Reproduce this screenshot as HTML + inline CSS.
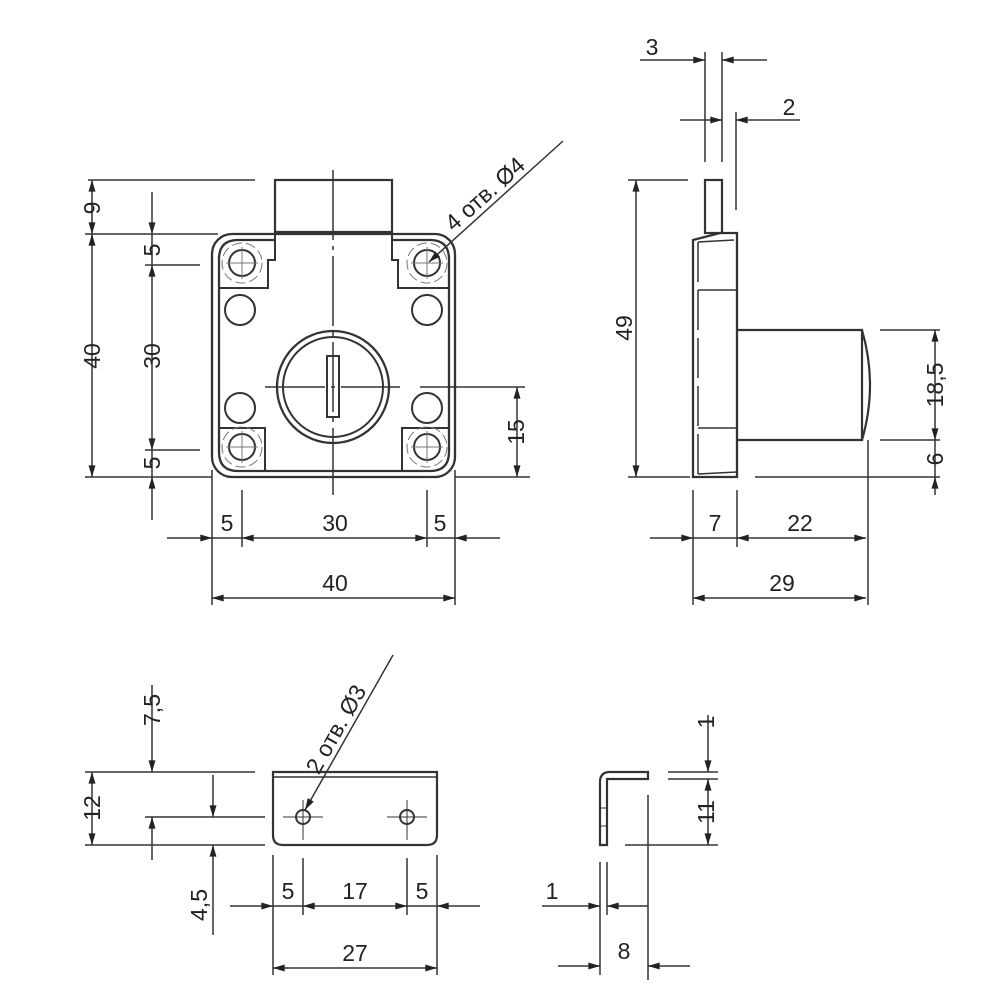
<!DOCTYPE html>
<html><head><meta charset="utf-8"><style>
html,body{margin:0;padding:0;background:#fff}
svg{display:block}
text{font-family:"Liberation Sans",sans-serif;font-size:23px;fill:#222}
</style></head><body>
<svg width="1000" height="1000" viewBox="0 0 1000 1000" xmlns="http://www.w3.org/2000/svg">
<defs>
<marker id="a" viewBox="0 0 10 6" refX="10" refY="3" markerWidth="14" markerHeight="7" markerUnits="userSpaceOnUse" orient="auto-start-reverse"><path d="M0,0 L10,3 L0,6z" fill="#222"/></marker>
</defs>
<g stroke="#333" stroke-width="1.5" fill="none">
<!-- FRONT VIEW -->
<rect x="212" y="234" width="243" height="243" rx="20" stroke-width="2.3"/>
<path d="M275,240 H238 Q219,240 219,259 V452 Q219,471 238,471 H430 Q449,471 449,452 V259 Q449,240 430,240 H392" stroke-width="2.3"/>
<rect x="275" y="180" width="117" height="52" stroke-width="2.2"/>
<path d="M275,232 V260 H268 V288 H219 M219,288" stroke-width="2"/>
<path d="M392,232 V260 H398 V288 H449" stroke-width="2"/>
<path d="M265,450 V471 M219,428 H265 V471" stroke-width="2"/>
<path d="M402,471 V428 H449" stroke-width="2"/>
<g stroke-width="2">
<circle cx="242" cy="263" r="13"/><circle cx="427" cy="263" r="13"/>
<circle cx="242" cy="447" r="13"/><circle cx="427" cy="447" r="13"/>
<circle cx="240" cy="310" r="15"/><circle cx="427" cy="310" r="15"/>
<circle cx="240" cy="408" r="15"/><circle cx="427" cy="408" r="15"/>
<circle cx="333" cy="387" r="56" stroke-width="2.3"/><circle cx="333" cy="387" r="50"/>
<rect x="327" y="356" width="12" height="61"/>
</g>
<g stroke-width="1" stroke="#777">
<path d="M226,263 H258 M242,247 V279 M411,263 H443 M427,247 V279 M226,447 H258 M242,431 V463 M411,447 H443 M427,431 V463"/>
<circle cx="242" cy="263" r="20" stroke-dasharray="10 4"/><circle cx="427" cy="263" r="20" stroke-dasharray="10 4"/>
<circle cx="242" cy="447" r="20" stroke-dasharray="10 4"/><circle cx="427" cy="447" r="20" stroke-dasharray="10 4"/>
</g>
<path d="M333,170 V495" stroke-dasharray="70 6 4 6"/>
<path d="M265,387 H400" stroke-dasharray="60 6 4 6"/>
<path d="M420,387 H525"/>
<!-- left dims -->
<path d="M88,180 H255 M85,234 H218 M85,477 H212 M145,265 H200 M145,450 H200"/>
<path d="M92,180 V234" marker-start="url(#a)" marker-end="url(#a)"/>
<path d="M92,234 V477" marker-start="url(#a)" marker-end="url(#a)"/>
<path d="M152,192 V234" marker-end="url(#a)"/>
<path d="M152,265 V450" marker-start="url(#a)" marker-end="url(#a)"/>
<path d="M152,520 V477" marker-end="url(#a)"/>
<path d="M152,234 V265"/><path d="M152,450 V477"/>
<path d="M517,387 V477" marker-start="url(#a)" marker-end="url(#a)"/>
<path d="M455,477 H530"/>
<!-- bottom dims -->
<path d="M212,470 V605 M455,470 V605 M242,490 V547 M427,490 V547"/>
<path d="M167,538 H212" marker-end="url(#a)"/>
<path d="M242,538 H427" marker-start="url(#a)" marker-end="url(#a)"/>
<path d="M500,538 H455" marker-end="url(#a)"/>
<path d="M212,538 H242 M427,538 H455"/>
<path d="M212,598 H455" marker-start="url(#a)" marker-end="url(#a)"/>
<path d="M563,141 L429,262" marker-end="url(#a)"/>
<!-- SIDE VIEW -->
<path d="M693,240 V477 H737 V233 H720 L693,240 Z" stroke-width="2.3"/>
<path d="M698,242 L734,240 M698,474 L737,472 M698,290 H737 M698,428 H737" stroke-width="1.6"/>
<path d="M698,242 V474" stroke-dasharray="40 8"/>
<rect x="705" y="180" width="17" height="53" stroke-width="2.2"/>
<path d="M737,330 H862 V440 H737 M862,330 Q878,385 862,440" stroke-width="2.2"/>
<path d="M628,180 H688 M628,477 H690 M755,477 H940 M880,330 H940 M880,440 H940"/>
<path d="M636,180 V477" marker-start="url(#a)" marker-end="url(#a)"/>
<path d="M935,330 V440" marker-start="url(#a)" marker-end="url(#a)"/>
<path d="M935,440 V477"/>
<path d="M935,495 V477" marker-end="url(#a)"/>
<path d="M868,440 V605"/>
<path d="M693,490 V605 M737,490 V547"/>
<path d="M650,538 H693" marker-end="url(#a)"/>
<path d="M737,538 H866" marker-start="url(#a)" marker-end="url(#a)"/>
<path d="M693,538 H737"/>
<path d="M693,598 H866" marker-start="url(#a)" marker-end="url(#a)"/>
<path d="M705,52 V162 M722,52 V162 M736,112 V210"/>
<path d="M640,60 H705" marker-end="url(#a)"/>
<path d="M767,60 H722" marker-end="url(#a)"/>
<path d="M680,120 H722" marker-end="url(#a)"/>
<path d="M800,120 H736" marker-end="url(#a)"/>
<!-- BRACKET -->
<path d="M273,772 H437 V835 Q437,845 427,845 H283 Q273,845 273,835 Z" stroke-width="2.2"/>
<path d="M273,777 H437" stroke-width="1.6"/>
<circle cx="303" cy="817" r="7" stroke-width="2"/><circle cx="407" cy="817" r="7" stroke-width="2"/>
<path d="M283,817 H323 M303,800 V840 M387,817 H427 M407,800 V840" stroke-width="1"/>
<path d="M85,772 H255 M85,845 H265 M145,817 H265"/>
<path d="M92,772 V845" marker-start="url(#a)" marker-end="url(#a)"/>
<path d="M152,685 V772" marker-end="url(#a)"/>
<path d="M152,860 V817" marker-end="url(#a)"/>
<path d="M213,775 V817" marker-end="url(#a)"/>
<path d="M213,935 V845" marker-end="url(#a)"/>
<path d="M273,855 V975 M437,855 V975 M303,858 V915 M407,858 V915"/>
<path d="M230,906 H273" marker-end="url(#a)"/>
<path d="M303,906 H407" marker-start="url(#a)" marker-end="url(#a)"/>
<path d="M480,906 H437" marker-end="url(#a)"/>
<path d="M273,906 H303 M407,906 H437"/>
<path d="M273,968 H437" marker-start="url(#a)" marker-end="url(#a)"/>
<path d="M393,655 L305,810" marker-end="url(#a)"/>
<!-- BRACKET SIDE -->
<path d="M600,845 V782 Q600,772 610,772 H648 V779 H607 V845 Z" stroke-width="2.2"/>
<path d="M600,808 H607 M600,826 H607" stroke-width="1"/>
<path d="M668,772 H718 M668,779 H718 M625,845 H718"/>
<path d="M708,715 V772" marker-end="url(#a)"/>
<path d="M708,779 V845" marker-start="url(#a)" marker-end="url(#a)"/>
<path d="M648,795 V980"/>
<path d="M600,862 V975 M607,862 V915"/>
<path d="M542,906 H600" marker-end="url(#a)"/>
<path d="M648,906 H607" marker-end="url(#a)"/>
<path d="M558,966 H600" marker-end="url(#a)"/>
<path d="M690,966 H648" marker-end="url(#a)"/>
</g>
<g>
<text transform="translate(100,208) rotate(-90)" text-anchor="middle">9</text>
<text transform="translate(100,356) rotate(-90)" text-anchor="middle">40</text>
<text transform="translate(160,250) rotate(-90)" text-anchor="middle">5</text>
<text transform="translate(160,356) rotate(-90)" text-anchor="middle">30</text>
<text transform="translate(160,463) rotate(-90)" text-anchor="middle">5</text>
<text transform="translate(524,432) rotate(-90)" text-anchor="middle">15</text>
<text x="227" y="531" text-anchor="middle">5</text>
<text x="335" y="531" text-anchor="middle">30</text>
<text x="440" y="531" text-anchor="middle">5</text>
<text x="335" y="591" text-anchor="middle">40</text>
<text transform="translate(457,236) rotate(-41.7)" x="0" y="-5" font-size="21">4 отв. Ø4</text>
<text transform="translate(632,328) rotate(-90)" text-anchor="middle">49</text>
<text transform="translate(943,385) rotate(-90)" text-anchor="middle">18,5</text>
<text transform="translate(943,459) rotate(-90)" text-anchor="middle">6</text>
<text x="715" y="531" text-anchor="middle">7</text>
<text x="800" y="531" text-anchor="middle">22</text>
<text x="782" y="591" text-anchor="middle">29</text>
<text x="652" y="55" text-anchor="middle">3</text>
<text x="789" y="115" text-anchor="middle">2</text>
<text transform="translate(100,808) rotate(-90)" text-anchor="middle">12</text>
<text transform="translate(160,710) rotate(-90)" text-anchor="middle">7,5</text>
<text transform="translate(207,905) rotate(-90)" text-anchor="middle">4,5</text>
<text x="288" y="899" text-anchor="middle">5</text>
<text x="355" y="899" text-anchor="middle">17</text>
<text x="422" y="899" text-anchor="middle">5</text>
<text x="355" y="961" text-anchor="middle">27</text>
<text transform="translate(323,778) rotate(-60.4)" x="0" y="-5" font-size="21">2 отв. Ø3</text>
<text transform="translate(714,722) rotate(-90)" text-anchor="middle">1</text>
<text transform="translate(714,812) rotate(-90)" text-anchor="middle">11</text>
<text x="552" y="899" text-anchor="middle">1</text>
<text x="624" y="959" text-anchor="middle">8</text>
</g>
</svg>
</body></html>
